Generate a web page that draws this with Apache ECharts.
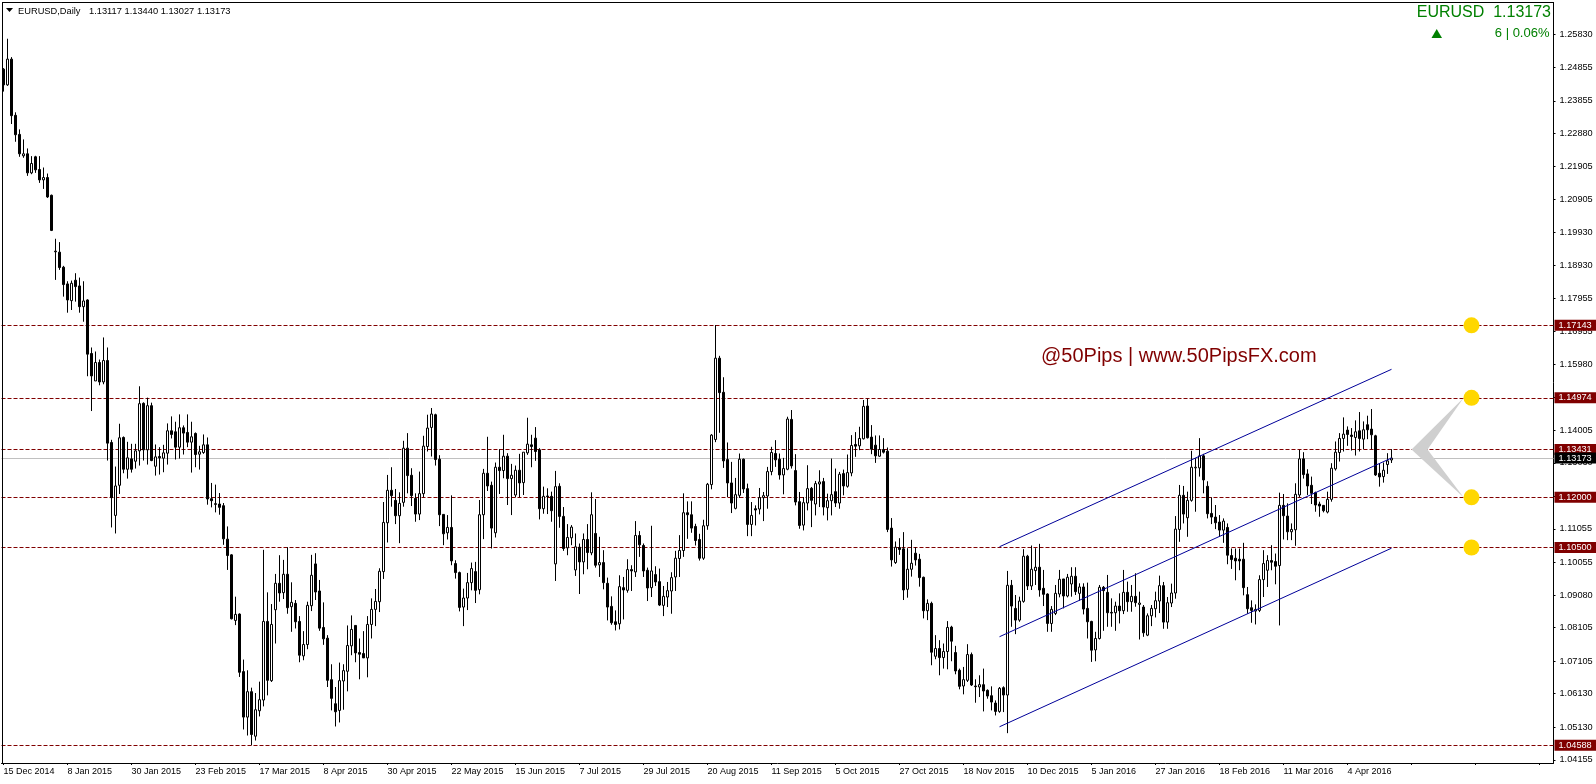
<!DOCTYPE html>
<html>
<head>
<meta charset="utf-8">
<style>html,body{margin:0;padding:0;background:#fff}#c{width:1596px;height:784px}</style>
<script src="https://cdn.jsdelivr.net/npm/echarts@6/dist/echarts.min.js"></script>
</head>
<body>
<div id="c"></div>
<script>
// Each row: [open, close, low, high]
const barsA = [
[1.2480,1.2433,1.2413,1.2483],[1.2433,1.2510,1.2430,1.2571],[1.2510,1.2341,1.2316,1.2516],[1.2342,1.2284,1.2263,1.2351],
[1.2285,1.2227,1.2218,1.2300],[1.2221,1.2227,1.2215,1.2270],[1.2227,1.2170,1.2161,1.2243],[1.2170,1.2198,1.2166,1.2220],
[1.2218,1.2179,1.2170,1.2221],[1.2180,1.2149,1.2140,1.2220],[1.2149,1.2156,1.2122,1.2186],[1.2156,1.2098,1.2095,1.2168],
[1.2103,1.1998,1.1996,1.2105],[1.1936,1.1934,1.1850,1.1973],[1.1933,1.1887,1.1880,1.1963],[1.1888,1.1836,1.1800,1.1892],
[1.1838,1.1790,1.1752,1.1846],[1.1788,1.1840,1.1760,1.1848],[1.1849,1.1830,1.1785,1.1870],[1.1832,1.1770,1.1752,1.1857],
[1.1770,1.1787,1.1725,1.1846],[1.1790,1.1628,1.1562,1.1792],[1.1630,1.1563,1.1458,1.1648],[1.1548,1.1603,1.1548,1.1636],
[1.1603,1.1545,1.1535,1.1612],[1.1545,1.1609,1.1538,1.1678],[1.1609,1.1362,1.1310,1.1648],[1.1364,1.1199,1.1110,1.1372],
[1.1146,1.1234,1.1092,1.1292],[1.1236,1.1378,1.1210,1.1420],[1.1379,1.1284,1.1272,1.1382],[1.1284,1.1318,1.1256,1.1366],
[1.1315,1.1284,1.1274,1.1360],[1.1308,1.1339,1.1286,1.1360],[1.1339,1.1480,1.1295,1.1532],[1.1481,1.1342,1.1310,1.1484],
[1.1342,1.1474,1.1298,1.1498],[1.1474,1.1310,1.1308,1.1483],[1.1293,1.1321,1.1265,1.1358],[1.1322,1.1318,1.1268,1.1350],
[1.1317,1.1333,1.1275,1.1357],[1.1332,1.1399,1.1298,1.1421],[1.1399,1.1388,1.1376,1.1442],[1.1396,1.1350,1.1313,1.1426],
[1.1350,1.1408,1.1316,1.1448],[1.1408,1.1392,1.1328,1.1415],[1.1394,1.1365,1.1350,1.1448],[1.1365,1.1381,1.1274,1.1426],
[1.1391,1.1328,1.1290,1.1394],[1.1329,1.1336,1.1283,1.1354],[1.1334,1.1357,1.1330,1.1388],[1.1357,1.1195,1.1178,1.1379],
[1.1196,1.1190,1.1170,1.1243],[1.1181,1.1179,1.1155,1.1238],[1.1180,1.1170,1.1148,1.1213],[1.1175,1.1076,1.1058,1.1183]
];
const barsB = [
[1.1075,1.1026,1.0983,1.1113],[1.1028,1.0837,1.0835,1.1030],[1.0832,1.0850,1.0818,1.0903],[1.0851,1.0677,1.0663,1.0853],
[1.0679,1.0543,1.0506,1.0715],[1.0543,1.0619,1.0488,1.0683],[1.0619,1.0491,1.0459,1.0631],[1.0486,1.0565,1.0473,1.0615],
[1.0562,1.0595,1.0545,1.0649],[1.0594,1.0829,1.0575,1.1043],[1.0829,1.0653,1.0608,1.0916],[1.0652,1.0820,1.0648,1.0881],
[1.0864,1.0943,1.0763,1.0971],[1.0943,1.0914,1.0888,1.1027],[1.0915,1.0970,1.0896,1.1013],[1.0970,1.0870,1.0852,1.1051],
[1.0873,1.0886,1.0798,1.0946],[1.0883,1.0828,1.0808,1.0893],[1.0829,1.0728,1.0707,1.0845],[1.0726,1.0760,1.0713,1.0800],
[1.0760,1.0877,1.0746,1.0888],[1.0876,1.0967,1.0860,1.1028],[1.1001,1.0917,1.0893,1.1033],[1.0920,1.0809,1.0801,1.0953],
[1.0811,1.0777,1.0759,1.0886],[1.0779,1.0653,1.0633,1.0788],[1.0655,1.0599,1.0563,1.0701],[1.0583,1.0559,1.0515,1.0633],
[1.0563,1.0652,1.0527,1.0706],[1.0651,1.0682,1.0565,1.0701],[1.0680,1.0757,1.0620,1.0817],[1.0756,1.0805,1.0728,1.0847],
[1.0817,1.0735,1.0707,1.0817],[1.0736,1.0731,1.0656,1.0778],[1.0733,1.0720,1.0720,1.0800],[1.0720,1.0820,1.0662,1.0845],
[1.0820,1.0865,1.0778,1.0898],[1.0865,1.0889,1.0815,1.0926],[1.0888,1.0979,1.0857,1.0988],[1.0978,1.1125,1.0956,1.1186]
];
const barsC = [
[1.1124,1.1221,1.1065,1.1267],[1.1221,1.1205,1.1172,1.1290],[1.1191,1.1145,1.1120,1.1225],[1.1145,1.1182,1.1063,1.1215],
[1.1185,1.1347,1.1172,1.1369],[1.1347,1.1265,1.1212,1.1392],[1.1266,1.1205,1.1174,1.1287],[1.1197,1.1150,1.1127,1.1212],
[1.1150,1.1211,1.1132,1.1277],[1.1211,1.1353,1.1200,1.1384],[1.1352,1.1407,1.1337,1.1447],[1.1409,1.1449,1.1322,1.1467],
[1.1447,1.1313,1.1295,1.1450],[1.1314,1.1148,1.1114,1.1326],[1.1149,1.1091,1.1057,1.1149],[1.1094,1.1110,1.1074,1.1147],
[1.1110,1.1010,1.0997,1.1206],[1.1002,1.0975,1.0957,1.1012],[1.0975,1.0871,1.0859,1.0978],[1.0872,1.0899,1.0815,1.0927],
[1.0899,1.0945,1.0863,1.0974],[1.0945,1.0987,1.0922,1.1005],[1.0978,1.0922,1.0884,1.1007],[1.0924,1.1148,1.0910,1.1192],
[1.1148,1.1272,1.1075,1.1285],[1.1272,1.1234,1.1219,1.1381],[1.1236,1.1108,1.1047,1.1247],[1.1094,1.1290,1.1080,1.1304],
[1.1290,1.1280,1.1210,1.1344],[1.1280,1.1323,1.1257,1.1387],[1.1323,1.1256,1.1177,1.1332],[1.1256,1.1266,1.1147,1.1300],
[1.1207,1.1281,1.1200,1.1295],[1.1281,1.1243,1.1200,1.1330],[1.1244,1.1335,1.1207,1.1335],[1.1333,1.1359,1.1327,1.1438],
[1.1357,1.1352,1.1290,1.1387],[1.1377,1.1337,1.1309,1.1410],[1.1342,1.1166,1.1134,1.1347],[1.1166,1.1203,1.1151,1.1232],
[1.1204,1.1202,1.1150,1.1227],[1.1203,1.1160,1.1127,1.1217],[1.1001,1.1232,1.0950,1.1279],[1.1233,1.1143,1.1109,1.1242]
];
const barsD = [
[1.1143,1.1047,1.1040,1.1171],[1.1049,1.1080,1.1027,1.1120],[1.1079,1.1111,1.1057,1.1117],[1.0983,1.1052,1.0965,1.1092],
[1.1051,1.1007,1.0911,1.1062],[1.1007,1.1074,1.0970,1.1092],[1.1074,1.1035,1.0985,1.1120],[1.1034,1.1148,1.1027,1.1215],
[1.1092,1.0997,1.0990,1.1195],[1.0998,1.1005,1.0962,1.1082],[1.1005,1.0945,1.0925,1.1042],[1.0943,1.0872,1.0832,1.0960],
[1.0874,1.0825,1.0819,1.0904],[1.0828,1.0820,1.0802,1.0862],[1.0822,1.0933,1.0805,1.0967],[1.0930,1.0923,1.0835,1.0962],
[1.0922,1.0984,1.0915,1.1015],[1.0984,1.0980,1.0920,1.0997],[1.0977,1.1086,1.0962,1.1129],[1.1086,1.1058,1.1022,1.1099],
[1.1056,1.0980,1.0962,1.1062],[1.0982,1.0929,1.0890,1.0990],[1.0930,1.0980,1.0902,1.1115],[1.0969,1.0947,1.0935,1.0994],
[1.0948,1.0878,1.0875,1.0987],[1.0877,1.0904,1.0845,1.0935],[1.0902,1.0921,1.0872,1.0947],[1.0920,1.0960,1.0852,1.0976],
[1.0962,1.1018,1.0920,1.1040],[1.1017,1.1041,1.0962,1.1087],[1.1041,1.1154,1.1022,1.1212],[1.1154,1.1148,1.1076,1.1188],
[1.1148,1.1108,1.1094,1.1188],[1.1113,1.1071,1.1056,1.1121],[1.1074,1.1018,1.1011,1.1091],[1.1018,1.1115,1.1013,1.1133],
[1.1115,1.1239,1.1103,1.1243],[1.1238,1.1386,1.1224,1.1389],[1.1373,1.1616,1.1365,1.1715],[1.1616,1.1513,1.1393,1.1623]
];
const barsE = [
[1.1514,1.1309,1.1288,1.1559],[1.1313,1.1243,1.1201,1.1364],[1.1243,1.1183,1.1153,1.1306],[1.1167,1.1208,1.1164,1.1258],
[1.1206,1.1314,1.1198,1.1331],[1.1314,1.1225,1.1213,1.1316],[1.1226,1.1119,1.1084,1.1241],[1.1119,1.1146,1.1084,1.1186],
[1.1166,1.1162,1.1116,1.1176],[1.1165,1.1199,1.1149,1.1228],[1.1199,1.1205,1.1129,1.1216],[1.1204,1.1277,1.1166,1.1291],
[1.1277,1.1334,1.1266,1.1351],[1.1331,1.1312,1.1291,1.1371],[1.1314,1.1267,1.1253,1.1331],[1.1267,1.1286,1.1209,1.1318],
[1.1284,1.1434,1.1281,1.1441],[1.1433,1.1294,1.1286,1.1461],[1.1280,1.1186,1.1176,1.1329],[1.1187,1.1116,1.1106,1.1216],
[1.1117,1.1184,1.1101,1.1201],[1.1183,1.1226,1.1161,1.1296],[1.1227,1.1191,1.1111,1.1231],[1.1180,1.1241,1.1146,1.1249],
[1.1240,1.1246,1.1171,1.1281],[1.1247,1.1171,1.1146,1.1258],[1.1169,1.1190,1.1131,1.1211],[1.1190,1.1208,1.1146,1.1316],
[1.1217,1.1183,1.1171,1.1286],[1.1183,1.1269,1.1166,1.1276],[1.1271,1.1234,1.1206,1.1283],[1.1233,1.1274,1.1229,1.1328],
[1.1273,1.1355,1.1263,1.1386],[1.1358,1.1353,1.1321,1.1395],[1.1354,1.1376,1.1341,1.1411],[1.1375,1.1472,1.1373,1.1491],
[1.1473,1.1378,1.1376,1.1495],[1.1380,1.1344,1.1329,1.1416],[1.1356,1.1324,1.1303,1.1385],[1.1323,1.1343,1.1321,1.1385],
[1.1343,1.1335,1.1331,1.1377]
];
const barsF = [
[1.1338,1.1104,1.1096,1.1349],[1.1108,1.1013,1.0993,1.1138],[1.1005,1.1051,1.1001,1.1068],[1.1050,1.1044,1.1028,1.1078],
[1.1046,1.0923,1.0893,1.1096],[1.0925,1.0985,1.0900,1.1048],[1.0985,1.1003,1.0963,1.1073],[1.1033,1.1013,1.0996,1.1051],
[1.1015,1.0960,1.0933,1.1031],[1.0961,1.0861,1.0838,1.0963],[1.0861,1.0883,1.0833,1.0895],[1.0883,1.0737,1.0698,1.0888],
[1.0725,1.0748,1.0716,1.0788],[1.0748,1.0721,1.0668,1.0773],[1.0721,1.0739,1.0688,1.0763],[1.0739,1.0811,1.0686,1.0830],
[1.0812,1.0770,1.0710,1.0816],[1.0736,1.0681,1.0671,1.0756],[1.0683,1.0635,1.0626,1.0688],[1.0636,1.0655,1.0611,1.0693],
[1.0653,1.0730,1.0648,1.0761],[1.0730,1.0639,1.0636,1.0736],[1.0636,1.0634,1.0586,1.0656],[1.0633,1.0640,1.0603,1.0668],
[1.0640,1.0621,1.0560,1.0688],[1.0623,1.0606,1.0598,1.0626],[1.0607,1.0588,1.0563,1.0635],[1.0585,1.0560,1.0548,1.0593],
[1.0560,1.0629,1.0556,1.0633],[1.0631,1.0609,1.0558,1.0635],[1.0609,1.0937,1.0495,1.0980]
];
const barsG = [
[1.0937,1.0875,1.0813,1.0953],[1.0868,1.0833,1.0791,1.0908],[1.0833,1.0890,1.0828,1.0903],[1.0889,1.1024,1.0885,1.1045],
[1.1024,1.0935,1.0923,1.1028],[1.0935,1.0985,1.0923,1.1056],[1.0981,1.0991,1.0938,1.1048],[1.0991,1.0923,1.0903,1.1061],
[1.0928,1.0910,1.0875,1.0983],[1.0911,1.0823,1.0798,1.0913],[1.0823,1.0865,1.0798,1.0875],[1.0853,1.0913,1.0848,1.0938],
[1.0911,1.0955,1.0901,1.0983],[1.0956,1.0905,1.0868,1.0956],[1.0905,1.0961,1.0901,1.0971],[1.0941,1.0964,1.0903,1.0991],
[1.0964,1.0918,1.0908,1.0991],[1.0913,1.0932,1.0891,1.0943],[1.0932,1.0866,1.0850,1.0943],[1.0868,1.0828,1.0778,1.0945],
[1.0829,1.0743,1.0708,1.0831],[1.0744,1.0778,1.0710,1.0798],[1.0778,1.0931,1.0775,1.0938],[1.0931,1.0921,1.0801,1.0935],
[1.0916,1.0855,1.0813,1.0968],[1.0856,1.0854,1.0813,1.0898],[1.0855,1.0875,1.0801,1.0888],[1.0875,1.0861,1.0823,1.0913],
[1.0861,1.0916,1.0851,1.0983],[1.0916,1.0888,1.0858,1.0948],[1.0888,1.0904,1.0858,1.0938],[1.0904,1.0885,1.0873,1.0973],
[1.0880,1.0884,1.0775,1.0918],[1.0872,1.0795,1.0783,1.0878],[1.0788,1.0846,1.0785,1.0853],[1.0846,1.0868,1.0815,1.0878],
[1.0867,1.0891,1.0841,1.0918]
];
const barsH = [
[1.0890,1.0936,1.0854,1.0966],[1.0936,1.0827,1.0807,1.0947],[1.0827,1.0885,1.0807,1.0902],[1.0884,1.0914,1.0872,1.0942],
[1.0914,1.1105,1.0897,1.1144],[1.1104,1.1206,1.1067,1.1237],[1.1206,1.1150,1.1122,1.1234],[1.1139,1.1191,1.1082,1.1217],
[1.1191,1.1290,1.1187,1.1339],[1.1288,1.1290,1.1157,1.1317],[1.1288,1.1324,1.1262,1.1377],[1.1324,1.1252,1.1212,1.1330],
[1.1233,1.1151,1.1137,1.1248],[1.1152,1.1141,1.1120,1.1200],[1.1141,1.1124,1.1105,1.1177],[1.1126,1.1102,1.1082,1.1147],
[1.1102,1.1129,1.1064,1.1137],[1.1110,1.1027,1.1000,1.1122],[1.1026,1.1014,1.0986,1.1047],[1.1018,1.1010,1.0952,1.1047],
[1.1015,1.1010,1.0982,1.1047],[1.1015,1.0930,1.0907,1.1064],[1.0909,1.0867,1.0852,1.0932],[1.0870,1.0862,1.0825,1.0892],
[1.0860,1.0865,1.0820,1.0880],[1.0862,1.0954,1.0857,1.0967],[1.0954,1.1002,1.0902,1.1042],[1.0982,1.1011,1.0932,1.1027],
[1.1011,1.1006,1.0982,1.1057],[1.1008,1.0994,1.0940,1.1032],[1.0996,1.1176,1.0817,1.1214],[1.1176,1.1145,1.1074,1.1210],
[1.1144,1.1097,1.1072,1.1182],[1.1097,1.1104,1.1072,1.1122],[1.1103,1.1209,1.1055,1.1242],[1.1207,1.1315,1.1200,1.1342],
[1.1315,1.1268,1.1256,1.1335],[1.1270,1.1234,1.1207,1.1284],[1.1236,1.1212,1.1180,1.1262],[1.1214,1.1177,1.1157,1.1217],
[1.1180,1.1174,1.1142,1.1187],[1.1176,1.1160,1.1155,1.1177],[1.1156,1.1194,1.1152,1.1217],[1.1194,1.1287,1.1187,1.1302],
[1.1285,1.1335,1.1280,1.1367],[1.1334,1.1376,1.1307,1.1392],[1.1376,1.1389,1.1337,1.1439],[1.1401,1.1388,1.1354,1.1412],
[1.1386,1.1382,1.1340,1.1407],[1.1379,1.1396,1.1325,1.1430],[1.1399,1.1376,1.1337,1.1455],[1.1374,1.1402,1.1344,1.1427],
[1.1417,1.1402,1.1374,1.1444],[1.1404,1.1387,1.1344,1.1464],[1.1384,1.1267,1.1264,1.1387],[1.1272,1.1261,1.1232,1.1302],
[1.1262,1.1281,1.1244,1.1304],[1.1298,1.1309,1.1270,1.1332],[1.13117,1.13173,1.13027,1.13440]
];
const dateLabels = ['15 Dec 2014','8 Jan 2015','30 Jan 2015','23 Feb 2015','17 Mar 2015','8 Apr 2015','30 Apr 2015','22 May 2015','15 Jun 2015','7 Jul 2015','29 Jul 2015','20 Aug 2015','11 Sep 2015','5 Oct 2015','27 Oct 2015','18 Nov 2015','10 Dec 2015','5 Jan 2016','27 Jan 2016','18 Feb 2016','11 Mar 2016','4 Apr 2016'];
const priceTicks = [1.25830,1.24855,1.23855,1.22880,1.21905,1.20905,1.19930,1.18930,1.17955,1.16955,1.15980,1.14980,1.14005,1.13030,1.12030,1.11055,1.10055,1.09080,1.08105,1.07105,1.06130,1.05130,1.04155];
const levels = [1.17143,1.14974,1.13431,1.12000,1.10500,1.04588];
const bidPrice = 1.13173;
const targetLevels = [1.17143,1.14974,1.12000,1.10500];
const targetBar = 367;
const channelUpper = [[249,1.10523],[347,1.15827]];
const channelMiddle = [[249,1.07833],[347,1.13176]];
const channelLower = [[249,1.05141],[347,1.10480]];
const arrowShape = [[352,1.1343],[365,1.1497],[356,1.1343],[365,1.1200]];
const slotCount = 388;
const labelEvery = 16;

const bars = [].concat(barsA,barsB,barsC,barsD,barsE,barsF,barsG,barsH);
const categories = [];
for (let i = 0; i < slotCount; i++) categories.push(i % labelEvery === 0 && dateLabels[i / labelEvery] ? dateLabels[i / labelEvery] : '');
const fmt = v => Number(v).toFixed(5);
const UI = 'Liberation Sans, Arial, sans-serif';
const tag = (bg) => ({show:true,position:'end',distance:1,formatter:p=>fmt(p.value),color:'#fff',backgroundColor:bg,fontFamily:UI,fontSize:9.2,padding:[1,5,1,4],lineHeight:9});
const channel = d => ({type:'line',data:d,showSymbol:false,symbol:'none',silent:true,z:6,animation:false,lineStyle:{color:'#000099',width:1}});

const chart = echarts.init(document.getElementById('c'),null,{renderer:'canvas'});
chart.setOption({
  animation:false,
  backgroundColor:'#fff',
  grid:{left:1.5,right:42.5,top:2.5,bottom:21,show:false,containLabel:false,outerBoundsMode:'none'},
  xAxis:{type:'category',data:categories,boundaryGap:true,
    axisLine:{show:true,lineStyle:{color:'#000',width:1}},
    axisTick:{show:true,length:2,alignWithLabel:true,interval:labelEvery-1,lineStyle:{color:'#000'}},
    axisLabel:{show:true,interval:labelEvery-1,align:'left',margin:4,fontFamily:UI,fontSize:9,color:'#000',hideOverlap:false},
    splitLine:{show:false}},
  yAxis:{type:'value',position:'right',min:1.04058,max:1.26793,scale:true,
    axisLine:{show:true,onZero:false,lineStyle:{color:'#000',width:1}},
    axisTick:{show:true,length:2,customValues:priceTicks,lineStyle:{color:'#000'}},
    axisLabel:{show:true,customValues:priceTicks,margin:6,formatter:fmt,fontFamily:UI,fontSize:9.2,color:'#000',showMinLabel:true,showMaxLabel:true},
    splitLine:{show:false}},
  series:[
    {type:'candlestick',data:bars,barWidth:3,silent:true,z:4,animation:false,
     itemStyle:{color:'#fff',color0:'#000',borderColor:'#000',borderColor0:'#000',borderWidth:1},
     markLine:{silent:true,symbol:'none',animation:false,z:3,precision:5,
       data:levels.map(v=>({yAxis:v,lineStyle:{color:'#800000',width:1,type:[4,2]},label:tag('#800000')}))
        .concat([{yAxis:bidPrice,lineStyle:{color:'#C0C0C0',width:1,type:'solid'},label:tag('#000')}])}},
    channel(channelUpper),channel(channelMiddle),channel(channelLower),
    {type:'custom',coordinateSystem:'cartesian2d',silent:true,z:5,animation:false,data:[[0,bidPrice]],
     encode:{x:0,y:1},clip:false,
     renderItem:(params,api)=>({type:'polygon',shape:{points:arrowShape.map(p=>api.coord(p))},style:{fill:'#CFCFCF',stroke:null}})},
    {type:'scatter',data:targetLevels.map(v=>[targetBar,v]),symbol:'circle',symbolSize:16,silent:true,z:7,animation:false,itemStyle:{color:'#FFD700',opacity:1}}
  ],
  graphic:[
    {type:'line',z:20,silent:true,shape:{x1:2.5,y1:2,x2:2.5,y2:764},style:{stroke:'#000',lineWidth:1}},
    {type:'line',z:20,silent:true,shape:{x1:2,y1:2.5,x2:1554,y2:2.5},style:{stroke:'#000',lineWidth:1}},
    {type:'polygon',z:20,silent:true,shape:{points:[[6,8],[13,8],[9.5,12]]},style:{fill:'#000'}},
    {type:'text',z:20,silent:true,style:{text:'EURUSD,Daily',x:18,y:11,font:'9.3px '+UI,fill:'#000',textVerticalAlign:'middle'}},
    {type:'text',z:20,silent:true,style:{text:'1.13117 1.13440 1.13027 1.13173',x:89,y:11,font:'9.3px '+UI,fill:'#000',textVerticalAlign:'middle'}},
    {type:'text',z:20,silent:true,style:{text:'EURUSD  1.13173',x:1551,y:13,font:'16px '+UI,fill:'#008000',textAlign:'right',textVerticalAlign:'middle'}},
    {type:'text',z:20,silent:true,style:{text:'6 | 0.06%',x:1549.5,y:33,font:'13px '+UI,fill:'#008000',textAlign:'right',textVerticalAlign:'middle'}},
    {type:'polygon',z:20,silent:true,shape:{points:[[1431.5,38],[1442,38],[1436.7,29]]},style:{fill:'#008000'}},
    {type:'text',z:20,silent:true,style:{text:'@50Pips | www.50PipsFX.com',x:1041,y:356.5,font:'20px '+UI,fill:'#800000',textVerticalAlign:'middle'}}
  ]
});
</script>
</body>
</html>
